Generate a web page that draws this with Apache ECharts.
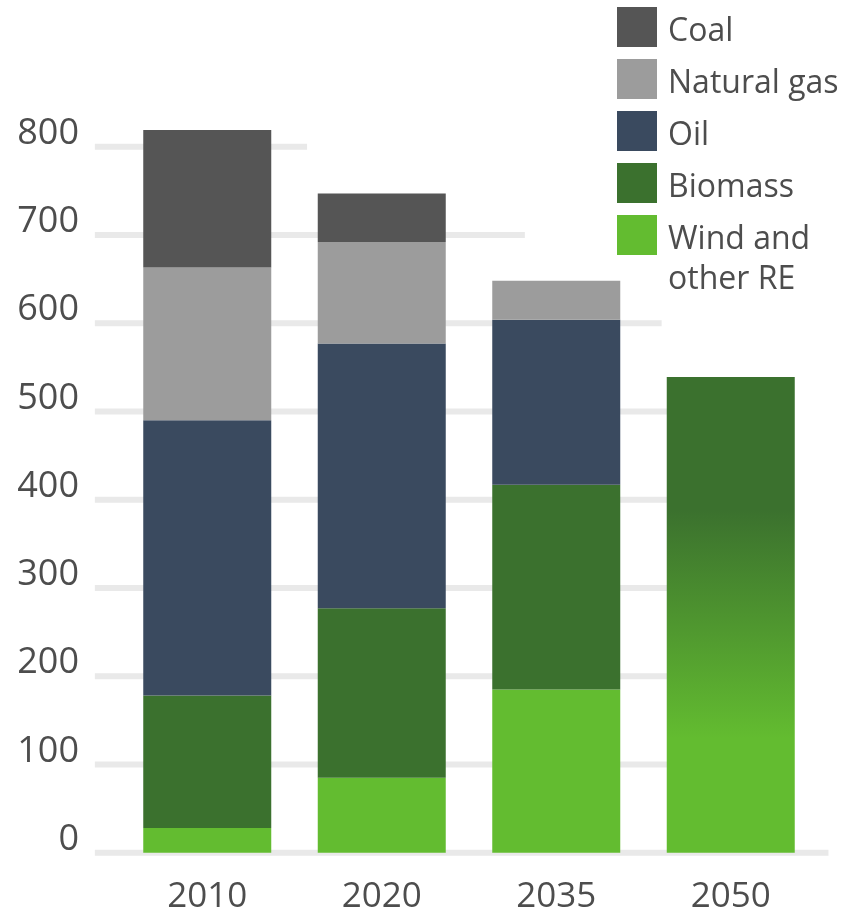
<!DOCTYPE html>
<html>
<head>
<meta charset="utf-8">
<script src="https://cdn.jsdelivr.net/npm/echarts@6/dist/echarts.min.js"></script>
<style>
  html, body { margin: 0; padding: 0; background: #ffffff; }
  #chart { width: 845px; height: 911px; }
</style>
</head>
<body>
<div id="chart"></div>
<script>
// ---- data ----
const categories = ['2010', '2020', '2035', '2050'];
const coal       = [156, 55, 0, 0];
const naturalGas = [173, 115, 44, 0];
const oil        = [312, 300, 187, 0];
const biomass    = [150, 192, 232, null];
const windRE     = [28, 85, 185, null];
const renewables2050 = [null, null, null, 539];
const yTicks     = [0, 100, 200, 300, 400, 500, 600, 700, 800];
const seriesNames = ['Coal', 'Natural gas', 'Oil', 'Biomass', 'Wind and other RE'];
// legend label lines (the last entry wraps onto a second line)
const legendLines = {
  'Coal': ['Coal'],
  'Natural gas': ['Natural gas'],
  'Oil': ['Oil'],
  'Biomass': ['Biomass'],
  'Wind and other RE': ['Wind and', 'other RE']
};

// ---- style ----
const colors = {
  coal: '#555555', gas: '#9c9c9c', oil: '#3a4a5f', biomass: '#3b712e', wind: '#63bc30'
};
const textColor = '#4d4d4d';
const fontFamily = '"Open Sans", "DejaVu Sans", sans-serif';
// visible extent of each horizontal guide line, as a fraction of the plot width
const guideStart = -0.036;
const guideEnds = { 0: 1.015, 100: 0.9, 200: 0.9, 300: 0.9, 400: 0.9, 500: 0.9, 600: 0.776, 700: 0.580, 800: 0.268 };
const legendLeft = 617, legendTop = 7, legendIcon = 40, legendGap = 11, legendLineStep = 42;

const guideData = yTicks.map(v => [guideEnds[v], v]);

const chart = echarts.init(document.getElementById('chart'), null, { renderer: 'canvas' });

function barSeries(name, data, color) {
  return {
    name: name,
    type: 'bar',
    stack: 'total',
    data: data,
    barWidth: 128,
    itemStyle: { color: color },
    emphasis: { disabled: true },
    z: 2
  };
}

// continuation lines of wrapped legend labels, placed under their legend entry
const extraLegendText = [];
seriesNames.forEach(function (name, i) {
  legendLines[name].slice(1).forEach(function (line, j) {
    extraLegendText.push({
      type: 'text',
      x: legendLeft + legendIcon + 11,
      y: legendTop + i * (legendIcon + legendGap + 1) + 23 + (j + 1) * legendLineStep,
      style: {
        text: line,
        fontSize: 32,
        fontFamily: fontFamily,
        fill: textColor,
        align: 'left',
        verticalAlign: 'middle'
      },
      silent: true
    });
  });
});

const option = {
  animation: false,
  backgroundColor: '#ffffff',
  textStyle: { fontFamily: fontFamily },
  grid: { left: 120, right: 27, top: 58.45, bottom: 58.3, outerBoundsMode: 'none', containLabel: false },
  legend: {
    orient: 'vertical',
    left: legendLeft,
    top: legendTop,
    padding: 0,
    itemWidth: legendIcon,
    itemHeight: legendIcon,
    itemGap: legendGap,
    icon: 'rect',
    selectedMode: false,
    itemStyle: { borderWidth: 0 },
    textStyle: {
      fontSize: 32, color: textColor, fontFamily: fontFamily, padding: [0, 0, 0, 6],
      rich: {
        s: { fontSize: 10, lineHeight: 10 },
        a: { fontSize: 32, lineHeight: 30, color: textColor, fontFamily: fontFamily }
      }
    },
    data: seriesNames,
    formatter: function (name) { return '{s| }\n{a|' + legendLines[name][0] + '}'; }
  },
  graphic: extraLegendText,
  xAxis: [
    {
      type: 'category',
      data: categories,
      axisLine: { show: false },
      axisTick: { show: false },
      splitLine: { show: false },
      axisLabel: { fontSize: 35, lineHeight: 35, color: textColor, margin: 27, fontFamily: fontFamily }
    },
    {
      type: 'value',
      min: 0,
      max: 1,
      show: false
    }
  ],
  yAxis: {
    type: 'value',
    min: 0,
    max: 900,
    interval: 100,
    axisLine: { show: false },
    axisTick: { show: false },
    splitLine: { show: false },
    axisLabel: {
      fontSize: 36,
      lineHeight: 26,
      color: textColor,
      margin: 41,
      align: 'right',
      verticalAlign: 'bottom',
      fontFamily: fontFamily,
      formatter: function (v) { return yTicks.indexOf(v) >= 0 ? String(v) : ''; }
    }
  },
  series: [
    {
      type: 'custom',
      name: 'guides',
      xAxisIndex: 1,
      yAxisIndex: 0,
      clip: false,
      silent: true,
      z: 0,
      encode: { x: 0, y: 1 },
      data: guideData,
      renderItem: function (params, api) {
        const y = api.value(1);
        const p1 = api.coord([guideStart, y]);
        const p2 = api.coord([api.value(0), y]);
        return {
          type: 'line',
          shape: { x1: p1[0], y1: p1[1], x2: p2[0], y2: p2[1] },
          style: { stroke: '#e9e9e9', lineWidth: 6 }
        };
      }
    },
    barSeries(seriesNames[4], windRE, colors.wind),
    barSeries(seriesNames[3], biomass, colors.biomass),
    barSeries(seriesNames[2], oil, colors.oil),
    barSeries(seriesNames[1], naturalGas, colors.gas),
    barSeries(seriesNames[0], coal, colors.coal),
    {
      name: 'Renewables 2050',
      type: 'bar',
      stack: 'total',
      data: renewables2050,
      barWidth: 128,
      emphasis: { disabled: true },
      z: 2,
      itemStyle: {
        color: new echarts.graphic.LinearGradient(0, 0, 0, 1, [
          { offset: 0, color: colors.biomass },
          { offset: 0.28, color: colors.biomass },
          { offset: 0.76, color: colors.wind },
          { offset: 1, color: colors.wind }
        ])
      }
    }
  ]
};

chart.setOption(option);
</script>
</body>
</html>
